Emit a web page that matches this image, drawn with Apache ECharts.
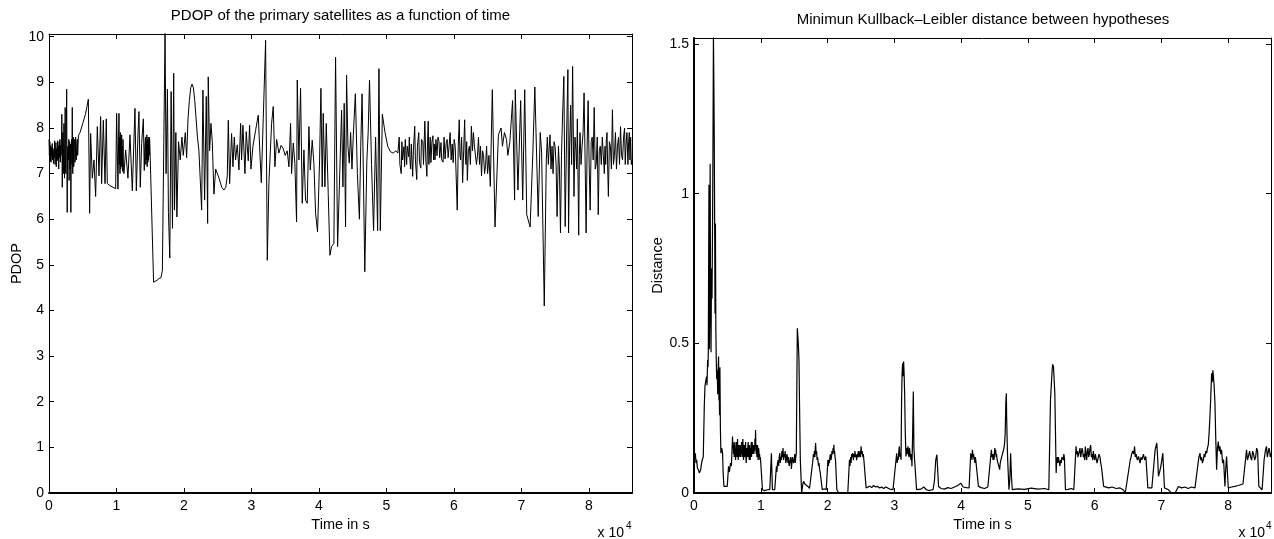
<!DOCTYPE html>
<html>
<head>
<meta charset="utf-8">
<script src="https://cdn.jsdelivr.net/npm/echarts@6/dist/echarts.min.js"></script>
<style>
html,body{margin:0;padding:0;background:#fff;}
#chart{width:1274px;height:539px;}
</style>
</head>
<body>
<div id="chart"></div>
<script>
// ---- Left panel: PDOP of the primary satellites, [time (s), PDOP] ----
const pdopSeries = [
[0,7.75],[60,7.40],[120,7.70],[180,7.28],[240,7.62],[300,7.25],[360,7.58],[420,7.38],[480,7.66],[540,7.30],[600,7.55],[660,7.22],[720,7.50],[780,7.35],[840,7.72],[900,7.20],[960,7.45],[1020,7.68],[1080,7.15],[1140,7.55],[1200,7.28],[1260,7.72],[1320,7.30],[1380,7.60],[1440,7.10],[1500,7.70],[1560,7.35],[1620,7.75],[1680,7.25],[1740,7.62],[1800,7.40],[1860,7.75],[1900,8.30],[1970,6.70],[2020,7.80],[2060,7.90],[2120,7.00],[2170,7.60],[2220,8.10],[2270,7.20],[2300,6.90],[2350,7.70],[2400,8.45],[2450,7.10],[2500,7.00],[2560,7.75],[2620,8.85],[2660,7.20],[2700,6.15],[2750,7.50],[2800,7.60],[2850,7.30],[2900,7.45],[2940,7.75],[2980,6.85],[3020,7.55],[3060,7.70],[3100,7.10],[3150,7.20],[3200,7.65],[3240,6.15],[3290,7.40],[3350,7.75],[3400,7.20],[3450,8.45],[3490,7.30],[3520,7.00],[3560,7.60],[3600,7.80],[3650,7.15],[3700,7.20],[3750,7.75],[3800,7.70],[3850,7.25],[3900,7.35],[3950,7.80],[4000,7.80],[4050,7.30],[4100,7.30],[4150,7.70],[4200,7.75],[4250,7.40],[4300,7.40],[4350,7.80],[4400,7.85],
[4600,7.90],[4800,8.00],[5000,8.10],[5200,8.20],[5400,8.30],[5600,8.45],[5830,8.63],[6020,6.13],[6170,7.88],[6420,6.90],[6670,7.30],[6910,6.50],[7160,8.03],[7410,6.95],[7650,8.25],[7800,6.78],[8050,8.17],[8300,6.78],[8490,8.20],[8640,6.78],[9000,6.74],[9500,6.70],[9880,6.67],[10020,8.32],[10220,6.66],[10370,8.32],
[10420,7.20],[10470,7.80],[10520,7.00],[10570,7.90],[10620,7.10],[10670,7.70],[10720,7.15],[10770,7.85],[10820,7.20],[10870,7.60],[10920,7.05],[10970,7.75],[11020,7.10],[11110,7.00],[11360,7.52],[11700,6.90],[12000,7.85],[12350,6.62],[12590,6.60],[12740,8.43],[12940,6.62],[13190,7.88],[13330,8.36],[13530,6.70],[13730,7.66],[13980,8.20],[14120,7.07],[14200,7.60],[14300,7.80],[14350,7.20],[14400,7.70],[14450,7.30],[14500,7.85],[14550,7.15],[14600,7.75],[14650,7.25],[14700,7.80],[14750,7.30],[14800,7.70],[14850,7.40],[14900,7.80],[14960,7.57],
[15500,4.62],[15700,4.60],[16000,4.66],[16300,4.70],[16600,4.72],[16800,4.88],[17000,4.92],[17200,10.1],[17350,7.00],[17550,8.85],[17700,6.15],[17900,5.15],[18100,8.80],[18300,5.80],[18480,9.20],[18600,6.20],[18800,7.90],[18950,6.05],[19200,7.70],[19450,7.30],[19700,7.80],[19900,7.40],[20200,7.90],[20400,7.35],[20600,8.20],[20800,8.60],[21000,8.88],[21200,8.96],[21400,8.88],[21600,8.60],[21800,8.20],[22000,7.80],[22220,7.50],[22620,6.20],[22810,8.83],[23060,6.42],[23310,8.69],[23510,5.91],[23600,9.12],[23800,7.50],[24000,8.10],[24200,7.70],[24440,6.55],[24700,7.10],[25200,6.90],[25600,6.70],[25930,6.64],[26200,6.70],[26420,6.95],[26570,8.17],[26770,6.78],[27060,7.88],[27260,7.15],[27460,7.80],[27650,7.30],[27900,7.63],[28150,7.08],[28400,8.10],[28540,7.30],[28740,8.06],[29040,7.00],[29230,7.92],[29530,7.28],[29730,8.06],[29930,7.10],[30220,7.60],[30620,7.95],[31010,8.28],[31210,7.60],[31460,6.80],[31750,8.20],[32100,9.92],[32350,5.10],[32590,6.80],[32990,8.10],[33230,8.47],[33480,7.15],[33730,7.75],[34070,7.45],[34400,7.62],[34700,7.55],[35000,7.40],[35300,7.50],[35560,7.15],[35800,8.10],[35950,7.00],[36200,7.67],[36440,7.22],[36690,5.94],[36790,9.05],[37040,7.30],[37280,8.87],[37530,6.35],[37780,7.52],[38020,6.42],[38270,6.35],[38520,8.03],[38720,7.08],[39010,7.73],[39260,7.22],[39510,6.13],[39800,5.72],[40100,7.30],[40300,8.87],[40490,6.71],[40640,8.32],[40890,6.71],[41090,8.10],[41380,6.56],[41630,5.21],[41880,5.40],[42220,5.47],[42470,9.55],[42770,5.40],[43060,5.36],[43360,8.39],[43560,6.71],[43750,8.54],[43950,5.83],[44100,9.16],[44300,7.60],[44500,7.23],[44700,7.90],[44900,7.10],[45100,7.85],[45400,8.75],[45700,7.00],[46000,6.00],[46200,7.60],[46400,8.75],[46600,6.90],[46800,4.85],[47100,7.26],[47300,7.90],[47500,9.05],[47800,7.20],[48100,5.75],[48400,7.80],[48700,5.75],[48900,9.30],[49100,5.75],[49400,8.30],[49800,7.90],[50200,7.60],[50600,7.48],[51000,7.45],[51400,7.50],
[51700,7.45],[51900,7.80],[52000,7.20],[52200,7.00],[52300,7.70],[52400,7.30],[52600,7.59],[52700,7.15],[52800,7.75],[53000,7.20],[53100,7.60],[53300,7.37],[53400,7.80],[53500,7.25],[53600,7.10],[53700,7.65],[53900,6.94],[54000,7.50],[54200,8.04],[54300,7.30],[54500,6.87],[54600,7.60],[54800,7.90],[54900,7.25],[55100,7.12],[55200,7.75],[55400,7.70],[55500,7.20],[55700,8.15],[55850,7.30],[56000,6.94],[56100,7.70],[56200,8.15],[56300,7.20],[56400,7.50],[56500,7.80],[56600,7.24],[56750,7.70],[56900,7.83],[57000,7.30],[57100,7.65],[57200,7.30],[57350,7.75],[57500,7.39],[57650,7.80],[57800,7.70],[57900,7.35],[58100,7.68],[58200,7.30],[58400,7.25],[58550,7.80],[58700,7.32],[58850,7.65],[59000,7.75],[59150,7.35],[59300,7.61],[59450,7.90],[59600,7.30],[59750,7.65],[59900,7.24],[60050,7.75],[60200,7.60],
[60500,6.20],[60650,7.60],[60800,8.18],[60900,7.40],[61000,7.30],[61150,7.80],[61300,6.80],[61450,7.50],[61600,8.18],[61700,7.40],[61800,7.20],[61900,7.70],[62000,6.85],[62150,7.50],[62300,7.60],[62450,7.20],[62600,8.04],[62750,7.50],[62900,7.90],[63050,7.60],[63200,7.60],[63350,7.20],[63500,7.40],[63650,7.80],[63800,7.20],[63950,7.60],[64100,6.95],[64250,7.50],[64400,7.40],[64550,7.00],[64700,7.18],[64850,7.60],[65000,7.00],[65200,7.40],[65400,6.72],[65700,8.84],[66100,5.83],[66600,7.85],[67000,8.00],[67200,7.60],[67500,7.90],[67800,7.75],[68000,7.40],[68300,7.70],[68700,8.60],[69000,6.42],[69100,8.84],[69500,6.64],[69900,8.60],[70200,6.42],[70500,8.84],[70800,6.10],[71300,5.83],[71700,7.43],[72000,8.90],[72500,6.06],[72800,7.90],[73000,7.47],[73400,4.10],
[73700,7.30],[73850,7.80],[74000,7.20],[74100,7.50],[74250,7.85],[74400,7.10],[74550,7.60],[74700,7.00],[74850,7.70],[75000,7.60],[75150,7.20],[75300,6.06],[75500,7.60],[75650,7.10],[75800,5.70],[75950,7.40],[76100,8.22],[76300,9.13],[76500,5.84],[76700,7.80],[76900,9.28],[77000,5.70],[77150,7.60],[77300,8.50],[77450,7.20],[77600,9.35],[77800,6.50],[77950,7.80],[78100,7.50],[78200,7.10],[78300,8.20],[78500,5.65],[78600,7.40],[78700,7.90],[78850,7.20],[79000,7.60],[79150,7.90],[79300,8.77],[79450,7.30],[79600,5.70],[79750,7.60],[79900,8.60],[80050,7.20],[80200,6.20],[80350,7.70],[80500,7.80],[80650,7.30],[80800,8.45],[80950,7.10],[81100,7.20],[81250,7.80],[81400,6.10],[81550,7.50],[81700,7.60],[81850,7.20],[82000,7.80],[82150,7.40],[82300,7.00],[82400,7.60],[82500,7.20],[82600,7.75],[82700,7.90],[82800,7.10],[82900,6.50],[83050,7.70],[83200,7.60],[83350,7.10],[83500,8.40],[83650,7.20],[83800,7.40],[83950,7.90],[84100,7.10],[84250,7.60],[84400,7.80],[84550,7.20],[84700,8.03],[84850,7.40],[85000,7.30],[85150,7.80],[85300,8.00],[85400,7.20],[85500,7.60],[85650,7.90],[85800,7.20],[85900,7.70],[86000,7.90],[86100,7.30],[86200,7.80],[86300,7.20],[86400,7.30]
];

// ---- Right panel: minimum Kullback-Leibler distance, [time (s), distance] ----
const klSeries = [
[0,0.144],[100,0.120],[200,0.133],[300,0.100],[400,0.111],[500,0.085],[600,0.089],[700,0.075],[800,0.067],[900,0.072],[1000,0.078],[1100,0.095],[1190,0.106],[1300,0.115],[1390,0.122],[1540,0.289],[1640,0.356],[1790,0.378],[1890,0.389],[1950,0.360],[2040,0.444],[2100,0.420],[2140,0.467],[2180,0.700],[2240,1.030],[2300,0.480],[2360,0.800],[2420,1.100],[2480,0.600],[2550,0.470],[2620,0.750],[2700,0.650],[2780,0.900],[2850,1.200],[2910,1.530],[2970,1.380],[3030,1.200],[3090,0.920],[3150,0.600],[3210,0.900],[3270,0.550],[3330,0.450],[3400,0.380],[3480,0.410],[3550,0.330],[3600,0.400],[3680,0.456],[3730,0.310],[3780,0.350],[3830,0.260],[3880,0.420],[3950,0.220],[4030,0.133],[4150,0.150],[4280,0.133],[4360,0.070],[4480,0.022],[4600,0.025],[4750,0.018],[4980,0.022],[5170,0.089],[5300,0.070],[5470,0.100],[5600,0.090],
[5770,0.189],[5820,0.15],[5870,0.17],[5920,0.13],[5970,0.16],[6020,0.12],[6070,0.15],[6120,0.17],[6170,0.13],[6220,0.11],[6270,0.15],[6320,0.14],[6370,0.17],[6420,0.12],[6470,0.14],[6520,0.18],[6570,0.13],[6620,0.11],[6670,0.15],[6720,0.16],[6770,0.12],[6820,0.14],[6870,0.13],[6920,0.16],[6970,0.12],[7020,0.15],[7070,0.13],[7120,0.17],[7170,0.14],[7220,0.12],[7270,0.16],[7320,0.18],[7370,0.13],[7420,0.11],[7470,0.14],[7520,0.16],[7570,0.12],[7620,0.14],[7670,0.13],[7720,0.17],[7770,0.12],[7820,0.10],[7870,0.14],[7920,0.15],[7970,0.12],[8020,0.13],[8070,0.16],[8120,0.17],[8170,0.12],[8220,0.14],[8270,0.11],[8320,0.16],[8370,0.13],[8420,0.11],[8470,0.15],[8520,0.14],[8570,0.17],[8620,0.12],[8670,0.15],[8720,0.17],[8770,0.13],[8820,0.15],[8870,0.14],[8920,0.16],[8970,0.13],[9020,0.15],[9070,0.14],[9120,0.18],[9170,0.16],[9220,0.21],[9270,0.15],[9320,0.13],[9370,0.16],[9420,0.12],[9470,0.14],[9520,0.16],[9570,0.12],[9620,0.11],[9670,0.15],[9720,0.14],[9770,0.12],[9820,0.13],[9870,0.11],[9920,0.12],[9970,0.11],
[10250,0.011],[10400,0.015],[10550,0.008],[10700,0.014],[10850,0.010],[11000,0.016],[11100,0.011],[11350,0.012],[11590,0.133],[11740,0.011],[11900,0.014],[12090,0.011],
[12340,0.089],[12420,0.07],[12500,0.10],[12600,0.11],[12680,0.09],[12760,0.12],[12840,0.133],[12920,0.10],[13000,0.12],[13080,0.11],[13160,0.14],[13240,0.12],[13330,0.15],[13410,0.11],[13490,0.13],[13570,0.12],[13650,0.14],[13740,0.10],[13830,0.111],[13910,0.13],[13990,0.12],[14070,0.10],[14150,0.12],[14240,0.09],[14330,0.089],[14410,0.11],[14500,0.12],[14580,0.08],[14660,0.10],[14750,0.12],[14830,0.122],[14910,0.10],[15000,0.11],[15080,0.13],[15160,0.10],[15240,0.12],[15320,0.133],[15470,0.550],[15560,0.520],[15620,0.500],[15720,0.444],[15800,0.300],[15920,0.111],[16120,0.000],[16300,0.030],[16420,0.039],[16600,0.030],[16800,0.025],[17060,0.022],[17300,0.015],[17560,0.011],
[17810,0.111],[17880,0.13],[17950,0.12],[18030,0.14],[18100,0.12],[18160,0.15],[18210,0.167],[18280,0.13],[18350,0.14],[18430,0.11],[18500,0.12],[18560,0.111],[18640,0.09],[18720,0.10],[18800,0.08],[18910,0.067],[19050,0.040],[19200,0.011],[19500,0.014],[19800,0.011],
[20050,0.111],[20130,0.09],[20200,0.11],[20280,0.10],[20350,0.12],[20430,0.13],[20500,0.11],[20580,0.12],[20660,0.14],[20750,0.13],[20830,0.15],[20900,0.14],[20950,0.161],[21000,0.13],[21050,0.14],[21120,0.12],[21190,0.111],[21390,0.011],[21690,0.000],[22500,0.000],[23030,0.000],
[23280,0.111],[23360,0.09],[23450,0.12],[23520,0.10],[23600,0.13],[23680,0.12],[23780,0.133],[23860,0.11],[23950,0.13],[24030,0.12],[24100,0.14],[24190,0.12],[24280,0.128],[24360,0.11],[24440,0.13],[24520,0.12],[24600,0.14],[24700,0.12],[24780,0.13],[24850,0.14],[24930,0.12],[25020,0.156],[25100,0.13],[25200,0.14],[25280,0.12],[25350,0.13],[25440,0.11],[25520,0.111],
[25770,0.017],[26000,0.020],[26300,0.023],[26600,0.018],[26900,0.025],[27200,0.020],[27500,0.022],[27800,0.017],[28100,0.020],[28400,0.015],[28700,0.020],[29000,0.017],[29300,0.013],[29800,0.011],
[30350,0.133],[30430,0.10],[30500,0.12],[30580,0.11],[30670,0.14],[30750,0.156],[30830,0.12],[30900,0.13],[31000,0.111],[31080,0.30],[31160,0.40],[31240,0.433],[31310,0.39],[31390,0.439],[31460,0.40],[31540,0.333],[31640,0.20],[31740,0.122],[31820,0.15],[31900,0.13],[31970,0.14],[32040,0.156],[32120,0.13],[32200,0.12],[32270,0.15],[32340,0.144],[32420,0.12],[32500,0.11],[32570,0.13],[32640,0.089],[32740,0.20],[32840,0.339],[32930,0.15],[33030,0.111],
[33330,0.011],[33600,0.017],[34000,0.013],[34400,0.020],[34800,0.011],[35200,0.008],[35500,0.010],[35800,0.011],[36000,0.040],[36200,0.110],[36370,0.128],[36620,0.022],[37000,0.015],[37500,0.013],[38000,0.018],[38500,0.015],[39000,0.020],[39500,0.025],[39950,0.033],[40300,0.020],[40800,0.018],[41190,0.017],
[41440,0.133],[41500,0.12],[41550,0.13],[41620,0.11],[41690,0.144],[41750,0.13],[41800,0.12],[41870,0.13],[41940,0.111],[42000,0.12],[42050,0.10],[42120,0.12],[42190,0.111],[42590,0.022],[43000,0.018],[43500,0.015],[44000,0.020],[44180,0.017],
[44530,0.144],[44610,0.12],[44700,0.13],[44780,0.11],[44850,0.13],[44930,0.111],[45000,0.14],[45050,0.15],[45110,0.13],[45170,0.144],[45240,0.12],[45300,0.13],[45400,0.11],[45520,0.106],[45640,0.09],[45770,0.078],[45860,0.10],[45950,0.11],[46060,0.12],[46170,0.122],[46300,0.14],[46420,0.15],[46520,0.17],[46600,0.20],[46690,0.30],[46770,0.333],[46820,0.25],[46870,0.20],[46920,0.15],[46970,0.111],[47160,0.011],[47300,0.050],[47410,0.133],[47550,0.050],[47660,0.011],
[48500,0.014],[49500,0.012],[50500,0.016],[51500,0.013],[52500,0.015],[53130,0.011],[53380,0.311],[53630,0.411],[53700,0.430],[53830,0.422],[54030,0.333],
[54230,0.067],[54300,0.10],[54400,0.12],[54480,0.10],[54560,0.12],[54630,0.111],[54720,0.10],[54800,0.09],[54880,0.11],[55000,0.10],[55080,0.12],[55200,0.12],[55300,0.11],[55380,0.13],[55470,0.117],[55620,0.011],[56000,0.012],[56500,0.015],[56870,0.011],
[57210,0.156],[57300,0.13],[57400,0.14],[57500,0.12],[57600,0.125],[57700,0.14],[57800,0.15],[57900,0.12],[58000,0.115],[58100,0.15],[58200,0.14],[58300,0.12],[58400,0.13],[58500,0.11],[58600,0.155],[58700,0.13],[58800,0.11],[58900,0.14],[59000,0.15],[59100,0.12],[59200,0.13],[59300,0.15],[59400,0.16],[59500,0.12],[59600,0.13],[59700,0.11],[59800,0.14],[59900,0.12],[60000,0.11],[60100,0.13],[60200,0.13],[60350,0.10],[60500,0.10],[60650,0.13],[60800,0.12],[60900,0.10],[61000,0.09],
[61340,0.022],[61600,0.018],[62100,0.017],[62600,0.020],[63200,0.015],[63800,0.017],[64300,0.010],[64580,0.000],
[65330,0.111],[65450,0.12],[65570,0.133],[65700,0.14],[65850,0.13],[65970,0.156],[66080,0.12],[66200,0.13],[66380,0.11],[66570,0.122],[66680,0.11],[66800,0.10],[66930,0.12],[67060,0.111],[67180,0.12],[67300,0.13],[67480,0.11],[67660,0.122],[67960,0.017],[68560,0.017],
[69050,0.144],[69170,0.15],[69300,0.167],[69420,0.12],[69550,0.056],[69720,0.07],[69900,0.089],[70050,0.11],[70200,0.133],[70450,0.017],[71040,0.011],[71440,0.000],[72040,0.000],[72540,0.022],[73000,0.017],[73500,0.020],[74000,0.015],[74500,0.020],[75020,0.017],
[75420,0.089],[75600,0.12],[75770,0.133],[75880,0.11],[76000,0.12],[76130,0.10],[76270,0.111],[76380,0.13],[76500,0.12],[76640,0.14],[76770,0.133],[76890,0.15],[77010,0.161],[77130,0.20],[77260,0.256],[77380,0.32],[77510,0.40],[77580,0.37],[77650,0.38],[77700,0.41],[77760,0.411],[77880,0.36],[78010,0.30],[78130,0.18],[78260,0.078],[78380,0.15],[78510,0.172],[78630,0.14],[78760,0.156],[78880,0.13],[79000,0.144],[79150,0.10],[79300,0.111],[79500,0.022],[79620,0.08],[79750,0.122],[80000,0.017],
[80500,0.020],[80990,0.022],[81500,0.025],[81740,0.028],[82200,0.030],[82490,0.035],
[82740,0.144],[82870,0.11],[83000,0.12],[83100,0.13],[83200,0.14],[83350,0.12],[83500,0.11],[83650,0.14],[83800,0.13],[83950,0.11],[84100,0.12],[84250,0.15],[84400,0.14],[84580,0.022],[85070,0.011],[85370,0.111],[85550,0.14],[85720,0.156],[85850,0.12],[85970,0.122],[86100,0.15],[86200,0.14],[86300,0.12],[86400,0.133]
];

// ---- Tick labels ----
const xTickLabels = ['0','1','2','3','4','5','6','7','8'];
const pdopTickLabels = ['0','1','2','3','4','5','6','7','8','9','10'];
const klTickLabels = ['0','0.5','1','1.5'];

const FONT = '"Liberation Sans", Arial, Helvetica, sans-serif';
const chart = echarts.init(document.getElementById('chart'), null, {renderer:'canvas'});

function xFmt(v){ const i = Math.round(v/10000); return Math.abs(v - i*10000) < 1e-6 && i < xTickLabels.length ? xTickLabels[i] : ''; }
function pdopFmt(v){ const i = Math.round(v); return Math.abs(v - i) < 1e-6 && i < pdopTickLabels.length ? pdopTickLabels[i] : ''; }
function klFmt(v){ const i = Math.round(v*2); return Math.abs(v*2 - i) < 1e-6 && i < klTickLabels.length ? klTickLabels[i] : ''; }

const black = '#000';
function xAxisPair(grid, name){
  return [
    {gridIndex:grid, type:'value', min:0, max:86400, interval:10000, position:'bottom',
     axisLine:{onZero:false, lineStyle:{color:black, width:2}},
     axisTick:{inside:true, length:5, lineStyle:{color:black, width:1}},
     axisLabel:{formatter:xFmt, color:black, fontSize:14, fontFamily:FONT, margin:6},
     splitLine:{show:false},
     name:name, nameLocation:'middle', nameGap:21,
     nameTextStyle:{color:black, fontSize:14.5, fontFamily:FONT}},
    {gridIndex:grid, type:'value', min:0, max:86400, interval:10000, position:'top',
     axisLine:{onZero:false, lineStyle:{color:black, width:1}},
     axisTick:{inside:true, length:5, lineStyle:{color:black, width:1}},
     axisLabel:{show:false}, splitLine:{show:false}}
  ];
}
function yAxisPair(grid, max, interval, fmt, name, gap, lw){
  return [
    {gridIndex:grid, type:'value', min:0, max:max, interval:interval, position:'left',
     axisLine:{onZero:false, lineStyle:{color:black, width:lw}},
     axisTick:{inside:true, length:5, lineStyle:{color:black, width:1}},
     axisLabel:{formatter:fmt, color:black, fontSize:14, fontFamily:FONT, margin:5},
     splitLine:{show:false},
     name:name, nameLocation:'middle', nameGap:gap,
     nameTextStyle:{color:black, fontSize:14.5, fontFamily:FONT}},
    {gridIndex:grid, type:'value', min:0, max:max, interval:interval, position:'right',
     axisLine:{onZero:false, lineStyle:{color:black, width:1}},
     axisTick:{inside:true, length:5, lineStyle:{color:black, width:1}},
     axisLabel:{show:false}, splitLine:{show:false}}
  ];
}

const option = {
  animation:false,
  backgroundColor:'#fff',
  textStyle:{fontFamily:FONT},
  grid:[
    {left:49, top:34, width:583, height:459},
    {left:694, top:38, width:578, height:455}
  ],
  xAxis:[...xAxisPair(0,'Time in s'), ...xAxisPair(1,'Time in s')],
  yAxis:[...yAxisPair(0, 10.06, 1, pdopFmt, 'PDOP', 24, 1), ...yAxisPair(1, 1.52, 0.5, klFmt, 'Distance', 29, 2)],
  series:[
    {type:'line', xAxisIndex:0, yAxisIndex:0, data:pdopSeries, showSymbol:false, symbol:'none',
     lineStyle:{color:black, width:1}, clip:true},
    {type:'line', xAxisIndex:2, yAxisIndex:2, data:klSeries, showSymbol:false, symbol:'none',
     lineStyle:{color:black, width:1.2}, clip:true}
  ],
  graphic:[
    {type:'text', x:340.5, y:16, style:{text:'PDOP of the primary satellites as a function of time', fontSize:15, fontFamily:FONT, fill:black, align:'center', verticalAlign:'middle'}},
    {type:'text', x:983, y:20, style:{text:'Minimun Kullback\u2013Leibler distance between hypotheses', fontSize:15, fontFamily:FONT, fill:black, align:'center', verticalAlign:'middle'}},
    {type:'text', x:624, y:533, style:{text:'x 10', fontSize:14, fontFamily:FONT, fill:black, align:'right', verticalAlign:'middle'}},
    {type:'text', x:626, y:526, style:{text:'4', fontSize:10, fontFamily:FONT, fill:black, align:'left', verticalAlign:'middle'}},
    {type:'text', x:1265, y:533, style:{text:'x 10', fontSize:14, fontFamily:FONT, fill:black, align:'right', verticalAlign:'middle'}},
    {type:'text', x:1266, y:526, style:{text:'4', fontSize:10, fontFamily:FONT, fill:black, align:'left', verticalAlign:'middle'}}
  ]
};
chart.setOption(option);
</script>
</body>
</html>
